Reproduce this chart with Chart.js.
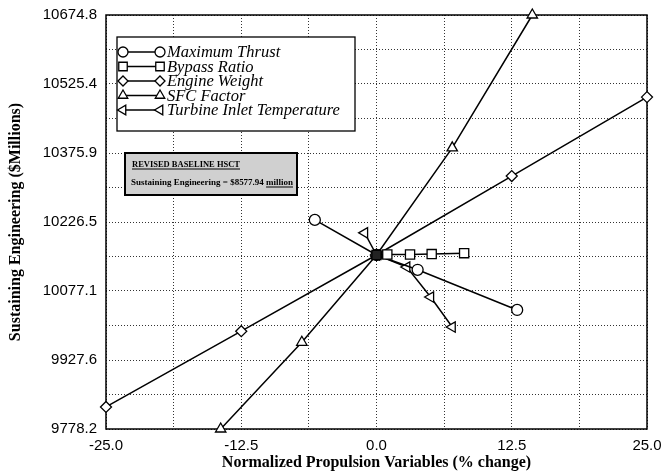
<!DOCTYPE html>
<html><head><meta charset="utf-8">
<script src="https://cdn.jsdelivr.net/npm/chart.js@4.4.1/dist/chart.umd.min.js"></script>
<style>html,body{margin:0;padding:0;background:#fff}canvas{display:block}</style>
</head><body>
<canvas id="c" width="662" height="473"></canvas>
<script>
// ---- data ----
const xTickValues = [-25, -12.5, 0, 12.5, 25];
const xTickLabels = ['-25.0', '-12.5', '0.0', '12.5', '25.0'];
const yTickValues = [9778.2, 9927.6, 10077.1, 10226.5, 10375.9, 10525.4, 10674.8];
const yTickLabels = ['9778.2', '9927.6', '10077.1', '10226.5', '10375.9', '10525.4', '10674.8'];

const seriesNames = ['Maximum Thrust', 'Bypass Ratio', 'Engine Weight', 'SFC Factor', 'Turbine Inlet Temperature'];

const maxThrustX = [-5.7, 0, 3.8, 13.0];
const maxThrustY = [10231, 10155, 10123, 10036];
const bypassX = [0, 1.0, 3.1, 5.1, 8.1];
const bypassY = [10155, 10156, 10156, 10157, 10159];
const engineX = [-25, -12.5, 0, 12.5, 25];
const engineY = [9826, 9990, 10155, 10326, 10497];
const sfcX = [-14.4, -6.9, 0, 7.0, 14.4];
const sfcY = [9778.2, 9966, 10155, 10387, 10674.8];
const turbineX = [-1.1, 0, 2.8, 5.0, 7.0];
const turbineY = [10203, 10155, 10129, 10064, 9999];

const baselineTitle = 'REVISED BASELINE HSCT';
const baselineText = 'Sustaining Engineering = $8577.94 ';
const baselineUnit = 'million';

// ---- build ----
function pts(xs, ys) { return xs.map((x, i) => ({x: x, y: ys[i]})); }
function mids(vals) {
  const out = [];
  for (let i = 0; i < vals.length; i++) {
    out.push(vals[i]);
    if (i < vals.length - 1) out.push((vals[i] + vals[i + 1]) / 2);
  }
  return out;
}
const xGrid = mids(xTickValues);
const yGrid = mids(yTickValues);

const styles = [
  {pointStyle: 'circle', radius: 5.5, rotation: 0},
  {pointStyle: 'rect', radius: 6.5, rotation: 0},
  {pointStyle: 'rectRot', radius: 5.5, rotation: 0},
  {pointStyle: 'triangle', radius: 6, rotation: 0},
  {pointStyle: 'triangle', radius: 6, rotation: -90}
];
const seriesData = [pts(maxThrustX, maxThrustY), pts(bypassX, bypassY), pts(engineX, engineY), pts(sfcX, sfcY), pts(turbineX, turbineY)];

const datasets = seriesNames.map((name, i) => ({
  label: name,
  data: seriesData[i],
  borderColor: '#000',
  borderWidth: 1.5,
  pointStyle: styles[i].pointStyle,
  pointRadius: styles[i].radius,
  pointRotation: styles[i].rotation,
  pointBorderWidth: 1.3,
  pointBorderColor: '#000',
  pointBackgroundColor: i === 1 ? (c) => (c.dataIndex === 0 ? '#222' : '#fff') : '#fff',
  order: i === 1 ? -1 : i,
  showLine: true,
  tension: 0,
  clip: false
}));

function drawMarker(ctx, st, x, y) {
  ctx.save();
  ctx.strokeStyle = '#000';
  ctx.fillStyle = '#fff';
  ctx.lineWidth = 1.3;
  Chart.helpers.drawPoint(ctx, {pointStyle: st.pointStyle, radius: st.radius - 0.5, rotation: st.rotation, borderWidth: 1.3}, x, y);
  ctx.restore();
}

const framePlugin = {
  id: 'frame',
  beforeDatasetsDraw(chart) {
    const {ctx, chartArea: a} = chart;
    ctx.save();
    ctx.strokeStyle = '#000';
    ctx.lineWidth = 1.5;
    ctx.strokeRect(a.left, a.top, a.right - a.left, a.bottom - a.top);
    ctx.restore();
  },
  afterDraw(chart) {
    const {ctx, chartArea: a} = chart;
    ctx.save();
    // legend box
    const bx = a.left + 11, by = a.top + 22, bw = 238, bh = 94;
    ctx.fillStyle = '#fff';
    ctx.fillRect(bx, by, bw, bh);
    ctx.strokeStyle = '#000';
    ctx.lineWidth = 1.3;
    ctx.strokeRect(bx, by, bw, bh);
    seriesNames.forEach((name, i) => {
      const y = by + 15 + i * 14.5;
      const x1 = bx + 6, x2 = bx + 43;
      ctx.beginPath();
      ctx.strokeStyle = '#000';
      ctx.lineWidth = 1.3;
      ctx.moveTo(x1, y); ctx.lineTo(x2, y); ctx.stroke();
      drawMarker(ctx, styles[i], x1, y);
      drawMarker(ctx, styles[i], x2, y);
      ctx.fillStyle = '#000';
      ctx.font = 'italic 16.5px "Liberation Serif"';
      ctx.textBaseline = 'middle';
      ctx.textAlign = 'left';
      ctx.fillText(name, bx + 50, y + 1);
    });

    // baseline box
    const qx = a.left + 19, qy = a.top + 138, qw = 172, qh = 42;
    ctx.fillStyle = '#d0d0d0';
    ctx.fillRect(qx, qy, qw, qh);
    ctx.strokeStyle = '#000';
    ctx.lineWidth = 2;
    ctx.strokeRect(qx, qy, qw, qh);
    ctx.fillStyle = '#000';
    ctx.textBaseline = 'alphabetic';
    ctx.font = 'bold 9px "Liberation Serif"';
    ctx.fillText(baselineTitle, qx + 7, qy + 14, 108);
    const w1 = Math.min(ctx.measureText(baselineTitle).width, 108);
    ctx.lineWidth = 1;
    ctx.beginPath(); ctx.moveTo(qx + 7, qy + 16); ctx.lineTo(qx + 7 + w1, qy + 16); ctx.stroke();
    ctx.font = 'bold 8px "Liberation Serif"';
    const full = baselineText + baselineUnit;
    const fw = ctx.measureText(full).width;
    const sc = 162 / fw;
    ctx.save();
    ctx.translate(qx + 6, qy + 32);
    ctx.scale(sc, 1);
    ctx.fillText(full, 0, 0);
    const uw = ctx.measureText(baselineUnit).width;
    const tw = ctx.measureText(baselineText).width;
    ctx.beginPath(); ctx.moveTo(tw, 2); ctx.lineTo(tw + uw, 2); ctx.lineWidth = 1; ctx.stroke();
    ctx.restore();
    ctx.restore();
  }
};

new Chart(document.getElementById('c'), {
  type: 'scatter',
  data: {datasets: datasets},
  options: {
    responsive: false,
    animation: false,
    devicePixelRatio: 1,
    layout: {padding: {left: 0, right: 15, top: 15, bottom: 0}},
    plugins: {legend: {display: false}, tooltip: {enabled: false}},
    scales: {
      x: {
        type: 'linear', min: -25, max: 25,
        afterBuildTicks: (s) => { s.ticks = xGrid.map(v => ({value: v})); },
        afterFit: (s) => { s.height = 44; s.paddingLeft = 0; s.paddingRight = 0; },
        ticks: {
          autoSkip: false, maxRotation: 0, padding: 8, color: '#000',
          font: {family: '"Liberation Sans"', size: 15},
          callback: (v) => { const i = xTickValues.indexOf(v); return i >= 0 ? xTickLabels[i] : ''; }
        },
        grid: {color: '#333', lineWidth: 1, drawTicks: false},
        border: {display: false, dash: [1, 2]},
        title: {display: true, text: 'Normalized Propulsion Variables (% change)', color: '#000',
          font: {family: '"Liberation Serif"', size: 16, weight: 'bold'}, padding: {top: 0, bottom: 1}}
      },
      y: {
        type: 'linear', min: 9778.2, max: 10674.8,
        afterBuildTicks: (s) => { s.ticks = yGrid.map(v => ({value: v})); },
        afterFit: (s) => { s.width = 106; s.paddingTop = 0; s.paddingBottom = 0; },
        ticks: {
          autoSkip: false, padding: 9, color: '#000',
          font: {family: '"Liberation Sans"', size: 15},
          callback: (v) => { const i = yTickValues.indexOf(v); return i >= 0 ? yTickLabels[i] : ''; }
        },
        grid: {color: '#333', lineWidth: 1, drawTicks: false},
        border: {display: false, dash: [1, 2]},
        title: {display: true, text: 'Sustaining Engineering ($Millions)', color: '#000',
          font: {family: '"Liberation Serif"', size: 16, weight: 'bold'}, padding: {top: 6, bottom: 0}}
      }
    }
  },
  plugins: [framePlugin]
});
</script>
</body></html>
